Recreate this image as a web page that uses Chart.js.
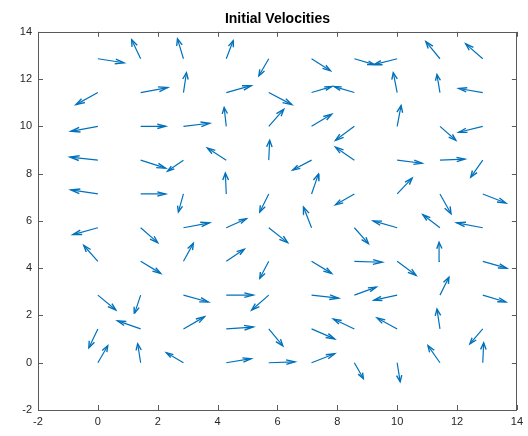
<!DOCTYPE html>
<html>
<head>
<meta charset="utf-8">
<script src="https://cdn.jsdelivr.net/npm/chart.js@4"></script>
<style>
html,body{margin:0;padding:0;background:#fff;}
#wrap{width:528px;height:436px;}
</style>
</head>
<body>
<div id="wrap"><canvas id="c" width="528" height="436"></canvas></div>
<script>
// Grid of arrow tails (x and y positions)
const gridX = [0, 1.43, 2.86, 4.29, 5.71, 7.14, 8.57, 10, 11.43, 12.86];
const gridY = [0, 1.43, 2.86, 4.29, 5.71, 7.14, 8.57, 10, 11.43, 12.86];
// Velocity components, one row per gridY value (row 0 = y 0)
const U = [
  [ 0.33,-0.10,-0.57, 0.83, 0.87, 0.77, 0.30, 0.10,-0.40, 0.03],
  [-0.30,-0.77, 0.70, 0.90, 0.47, 0.77,-0.70,-0.67,-0.10,-0.43],
  [ 0.60,-0.20, 0.83, 0.90,-0.57, 0.90, 0.73,-0.77, 0.30, 0.77],
  [-0.47, 0.67, 0.33, 0.60,-0.30, 0.67, 0.93, 0.63,-0.03, 0.80],
  [-0.83, 0.57, 0.87, 0.67, 0.63,-0.27, 0.47,-0.80,-0.57,-0.87],
  [-0.90, 0.83,-0.17,-0.03,-0.30, 0.23,-0.63, 0.50, 0.37, 0.77],
  [-0.93, 0.83,-0.53,-0.63, 0.03,-0.63,-0.63, 0.83, 0.83,-0.40],
  [-0.90, 0.83, 0.87,-0.07, 0.50, 0.67,-0.63, 0.13, 0.53,-0.80],
  [-0.73, 0.90, 0.10, 0.83, 0.77, 0.67,-0.67,-0.13,-0.10,-0.80],
  [ 0.87,-0.30,-0.20, 0.23,-0.33, 0.63, 0.67,-0.77,-0.47,-0.57]
];
const V = [
  [ 0.72, 0.80, 0.42, 0.17, 0.04, 0.38,-0.67,-0.80, 0.72, 0.84],
  [-0.80, 0.34, 0.51, 0.08,-0.72,-0.42, 0.42, 0.46, 0.84,-0.63],
  [-0.63,-0.76,-0.29, 0.00,-0.63,-0.13, 0.34,-0.21, 0.76,-0.29],
  [ 0.67,-0.51, 0.76, 0.51,-0.72,-0.51,-0.04,-0.59, 0.80,-0.29],
  [-0.29,-0.63, 0.21, 0.38,-0.63, 0.88,-0.67, 0.29, 0.55, 0.21],
  [ 0.17, 0.00,-0.76, 0.88,-0.76, 0.84,-0.46, 0.67,-0.84,-0.38],
  [ 0.13,-0.34,-0.46, 0.51, 0.84,-0.42, 0.55,-0.13, 0.04,-0.72],
  [-0.21, 0.00, 0.13, 0.80, 0.72, 0.51,-0.59, 0.88,-0.59,-0.25],
  [-0.51, 0.21, 0.84, 0.29,-0.51, 0.25, 0.25, 0.84, 0.76, 0.17],
  [-0.17, 0.80, 0.84, 0.76,-0.72,-0.51,-0.25,-0.25, 0.72, 0.63]
];
const xTicks = [-2, 0, 2, 4, 6, 8, 10, 12, 14];
const yTicks = [-2, 0, 2, 4, 6, 8, 10, 12, 14];
const titleText = 'Initial Velocities';

const ARROW = '#0072BD';
const ALPHA = 0.33, BETA = 0.33; // MATLAB-like quiver head proportions

// Build line data (shafts and heads) from the arrays, with gaps between arrows
const shafts = [], heads = [];
for (let r = 0; r < gridY.length; r++) {
  for (let c = 0; c < gridX.length; c++) {
    const x0 = gridX[c], y0 = gridY[r], u = U[r][c], v = V[r][c];
    const xt = x0 + u, yt = y0 + v;
    shafts.push({x: x0, y: y0}, {x: xt, y: yt}, {x: null, y: null});
    heads.push(
      {x: xt - ALPHA * (u + BETA * v), y: yt - ALPHA * (v - BETA * u)},
      {x: xt, y: yt},
      {x: xt - ALPHA * (u - BETA * v), y: yt - ALPHA * (v + BETA * u)},
      {x: null, y: null}
    );
  }
}

const boxTicks = {
  id: 'boxTicks',
  afterDraw(chart) {
    const {ctx, chartArea: a, scales: {x, y}} = chart;
    ctx.save();
    ctx.strokeStyle = '#5a5a5a';
    ctx.lineWidth = 1;
    const L = 5;
    ctx.beginPath();
    xTicks.forEach(t => {
      const p = Math.round(x.getPixelForValue(t)) + 0.5;
      ctx.moveTo(p, a.bottom); ctx.lineTo(p, a.bottom - L);
      ctx.moveTo(p, a.top); ctx.lineTo(p, a.top + L);
    });
    yTicks.forEach(t => {
      const p = Math.round(y.getPixelForValue(t)) + 0.5;
      ctx.moveTo(a.left, p); ctx.lineTo(a.left + L, p);
      ctx.moveTo(a.right, p); ctx.lineTo(a.right - L, p);
    });
    ctx.stroke();
    ctx.strokeRect(Math.round(a.left) + 0.5, Math.round(a.top) + 0.5,
                   Math.round(a.right - a.left) - 1, Math.round(a.bottom - a.top));
    ctx.restore();
  }
};

new Chart(document.getElementById('c'), {
  type: 'scatter',
  data: {
    datasets: [
      {data: shafts, showLine: true, spanGaps: false, borderColor: ARROW, borderWidth: 1.2, pointRadius: 0, tension: 0},
      {data: heads, showLine: true, spanGaps: false, borderColor: ARROW, borderWidth: 1.4, pointRadius: 0, tension: 0}
    ]
  },
  options: {
    responsive: false,
    animation: false,
    events: [],
    layout: {padding: {left: 0, right: 10, top: 0, bottom: 0}},
    plugins: {
      legend: {display: false},
      tooltip: {enabled: false},
      title: {
        display: true, text: titleText, fullSize: false,
        color: '#000', font: {family: '"Liberation Sans", Arial, sans-serif', size: 14, weight: 'bold', lineHeight: 1.2},
        padding: {top: 11, bottom: 4}
      }
    },
    scales: {
      x: {
        type: 'linear', min: -2, max: 14,
        afterBuildTicks: s => { s.ticks = xTicks.map(v => ({value: v})); },
        afterFit: s => { s.height = 26; },
        grid: {display: false, drawTicks: false},
        border: {display: false},
        ticks: {color: '#262626', padding: 5, maxRotation: 0, font: {family: '"Liberation Sans", Arial, sans-serif', size: 11}}
      },
      y: {
        type: 'linear', min: -2, max: 14,
        afterBuildTicks: s => { s.ticks = yTicks.map(v => ({value: v})); },
        afterFit: s => { s.width = 38; },
        grid: {display: false, drawTicks: false},
        border: {display: false},
        ticks: {color: '#262626', padding: 6, font: {family: '"Liberation Sans", Arial, sans-serif', size: 11}}
      }
    }
  },
  plugins: [boxTicks]
});
</script>
</body>
</html>
